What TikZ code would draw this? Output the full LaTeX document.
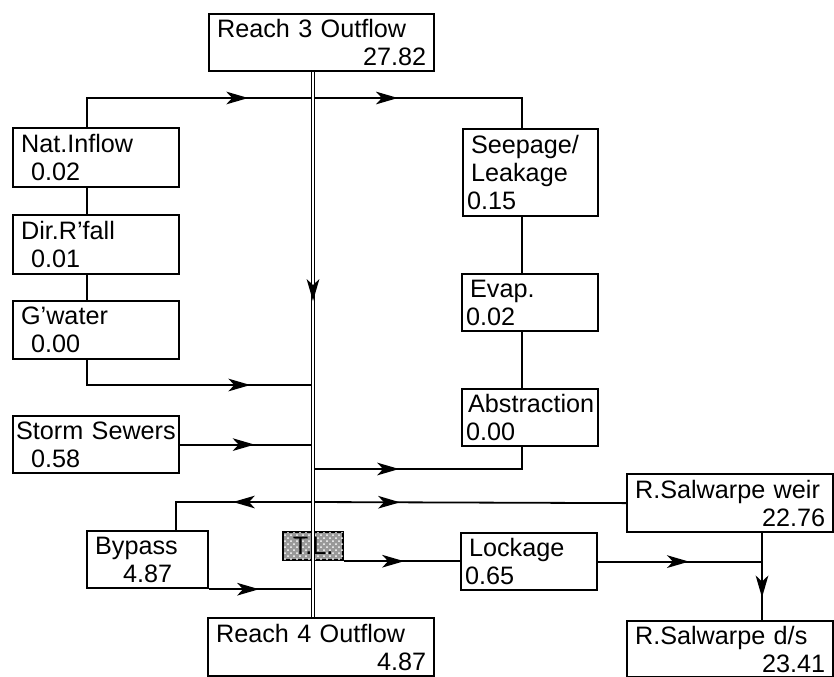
\documentclass[tikz,border=0pt]{standalone}
\usepackage{fontspec}
\setmainfont{Liberation Sans}
\usetikzlibrary{decorations.markings,patterns}
\setlength{\parindent}{0pt}
\hyphenpenalty=10000
\exhyphenpenalty=10000

\begin{document}
\begin{tikzpicture}[x=0.5pt, y=-0.5pt,
  box/.style={draw, line width=1.1pt, anchor=north west, inner xsep=4pt, inner ysep=1pt,
    align=left, font=\fontsize{12.6}{14}\selectfont},
  flow/.style={line width=0.9pt},
  arrowat/.style={postaction={decorate, decoration={markings,
    mark=at position #1 with {\fill (0pt,0pt) -- (-11pt,3.2pt) -- (-8pt,0pt) -- (-11pt,-3.2pt) -- cycle;}}}}]
\useasboundingbox (0,0) rectangle (834,676);
\node[box, text width=104.5pt, minimum height=28.5pt] (r3) at (208,13) {Reach 3 Outflow\\\hspace*{\fill}27.82};
\node[box, text width=75pt, minimum height=29.5pt] (nat) at (12,127) {Nat.Inflow\\\hspace*{5pt}0.02};
\node[box, text width=75pt, minimum height=29.5pt] (drf) at (12,214) {Dir.R'fall\\\hspace*{5pt}0.01};
\node[box, text width=75pt, minimum height=29pt] (gw) at (12,300) {G'water\\\hspace*{5pt}0.00};
\node[box, text width=75pt, minimum height=28.5pt] (ss) at (12,415) {\hspace*{-2.5pt}\mbox{Storm Sewers}\\\hspace*{5pt}0.58};
\node[box, text width=52.5pt, minimum height=28.5pt] (bp) at (86,530) {Bypass\\\hspace*{14pt}4.87};
\node[draw, line width=1.1pt, anchor=north west, minimum width=30pt, minimum height=14pt, inner sep=0pt,
  fill=black!40, postaction={pattern=crosshatch dots, pattern color=white},
  font=\fontsize{12.6}{14}\selectfont] (tl) at (282,531) {T.L.};
\node[box, text width=105pt, minimum height=29pt] (r4) at (207,617) {Reach 4 Outflow\\\hspace*{\fill}4.87};
\node[box, text width=59.5pt, minimum height=43.5pt] (sl) at (462,128) {Seepage/\\Leakage\\\hspace*{-2pt}0.15};
\node[box, text width=60pt, minimum height=28.5pt] (ev) at (461,273) {Evap.\\\hspace*{-2pt}0.02};
\node[box, text width=60pt, minimum height=28.5pt] (ab) at (461,388) {\hspace*{-1pt}Abstraction\\\hspace*{-2pt}0.00};
\node[box, text width=95pt, minimum height=29pt] (wr) at (626,473) {R.Salwarpe weir\\\hspace*{\fill}22.76};
\node[box, text width=60pt, minimum height=28.5pt] (lk) at (460,532) {Lockage\\\hspace*{-2pt}0.65};
\node[box, text width=95pt, minimum height=28pt] (ds) at (626,620) {R.Salwarpe d/s\\\hspace*{\fill}23.41};

\coordinate (lx) at (87,0);
\coordinate (mx) at (313,0);
\coordinate (rx) at (522,0);
\coordinate (wx) at (762,0);
\coordinate (bx) at (176,0);
\coordinate (ty) at (0,98);
\coordinate (gwj) at (313,385);
\coordinate (abj) at (313,469);
\coordinate (bpj) at (313,502);

\draw[flow, arrowat=0.385, arrowat=0.688] (nat.north -| lx) -- (lx |- ty) -- (rx |- ty) -- (sl.north -| rx);
\draw[flow] (nat.south -| lx) -- (drf.north -| lx);
\draw[flow] (drf.south -| lx) -- (gw.north -| lx);
\draw[flow, arrowat=0.75] (gw.south -| lx) |- (gwj);
\draw[flow, arrowat=0.56] (ss.east) -- (ss.east -| mx);
\draw[flow] (sl.south -| rx) -- (ev.north -| rx);
\draw[flow] (ev.south -| rx) -- (ab.north -| rx);
\draw[flow, arrowat=0.373] (abj) -| (ab.south -| rx);
\draw[flow, arrowat=0.485] (bpj) -| (bp.north -| bx);
\draw[flow, arrowat=0.278] (bpj) -- (wr.west);
\draw[flow, arrowat=0.48] (bp.south east) -- (bp.south east -| mx);
\draw[flow, arrowat=0.517] (tl.south east) -- (tl.south east -| lk.west);
\draw[flow, arrowat=0.554] (lk.east) -- (lk.east -| wx);
\draw[flow, arrowat=0.74] (wr.south -| wx) -- (ds.north -| wx);

\draw[double, double distance=0.9pt, line width=0.75pt] (r3.south -| mx) -- (r4.north -| mx);
\path[arrowat=0.42] (r3.south -| mx) -- (r4.north -| mx);
\end{tikzpicture}
\end{document}
